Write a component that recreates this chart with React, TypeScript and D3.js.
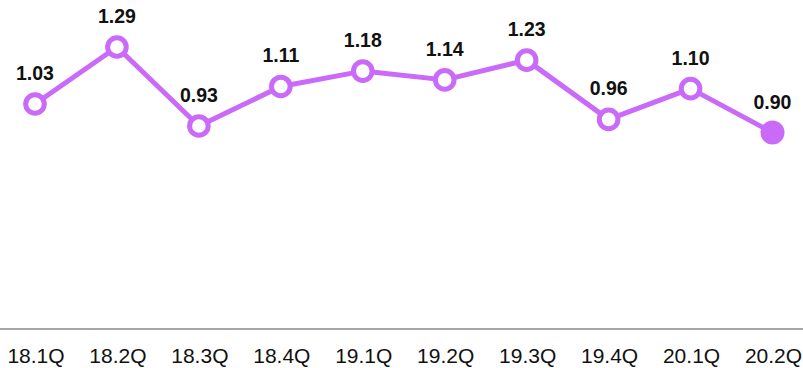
import React from "react";
import * as d3 from "d3";

const categories = ["18.1Q", "18.2Q", "18.3Q", "18.4Q", "19.1Q", "19.2Q", "19.3Q", "19.4Q", "20.1Q", "20.2Q"];
const values = [1.03, 1.29, 0.93, 1.11, 1.18, 1.14, 1.23, 0.96, 1.1, 0.9];

const W = 803;
const H = 368;
const COLOR = "#c96af8";

export default function App() {
  const x = d3.scalePoint<string>().domain(categories).range([35, 772.5]);
  const y = d3.scaleLinear().domain([0, 1.5]).range([330, 0.9]);
  const data = categories.map((c, i) => ({ c, v: values[i] }));
  const line = d3
    .line<{ c: string; v: number }>()
    .x((d) => x(d.c) as number)
    .y((d) => y(d.v));

  return (
    <svg
      width={W}
      height={H}
      style={{ position: "absolute", left: 0, top: 0, display: "block" }}
      fontFamily="'Liberation Sans', Arial, sans-serif"
    >
      <line x1={0} x2={W} y1={329} y2={329} stroke="#a6a6a6" strokeWidth={2} />
      <path d={line(data) || ""} fill="none" stroke={COLOR} strokeWidth={5} strokeLinejoin="round" />
      {data.map((d, i) => {
        const last = i === data.length - 1;
        const cx = x(d.c) as number;
        const cy = y(d.v);
        return (
          <g key={d.c}>
            {last ? (
              <circle cx={cx} cy={cy} r={12} fill={COLOR} />
            ) : (
              <circle cx={cx} cy={cy} r={9.3} fill="#fff" stroke={COLOR} strokeWidth={5} />
            )}
            <text x={cx} y={cy - 24} textAnchor="middle" fontSize={19.5} fontWeight="bold" fill="#111">
              {d.v.toFixed(2)}
            </text>
            <text x={cx + 1} y={363} textAnchor="middle" fontSize={21} fill="#111">
              {d.c}
            </text>
          </g>
        );
      })}
    </svg>
  );
}
